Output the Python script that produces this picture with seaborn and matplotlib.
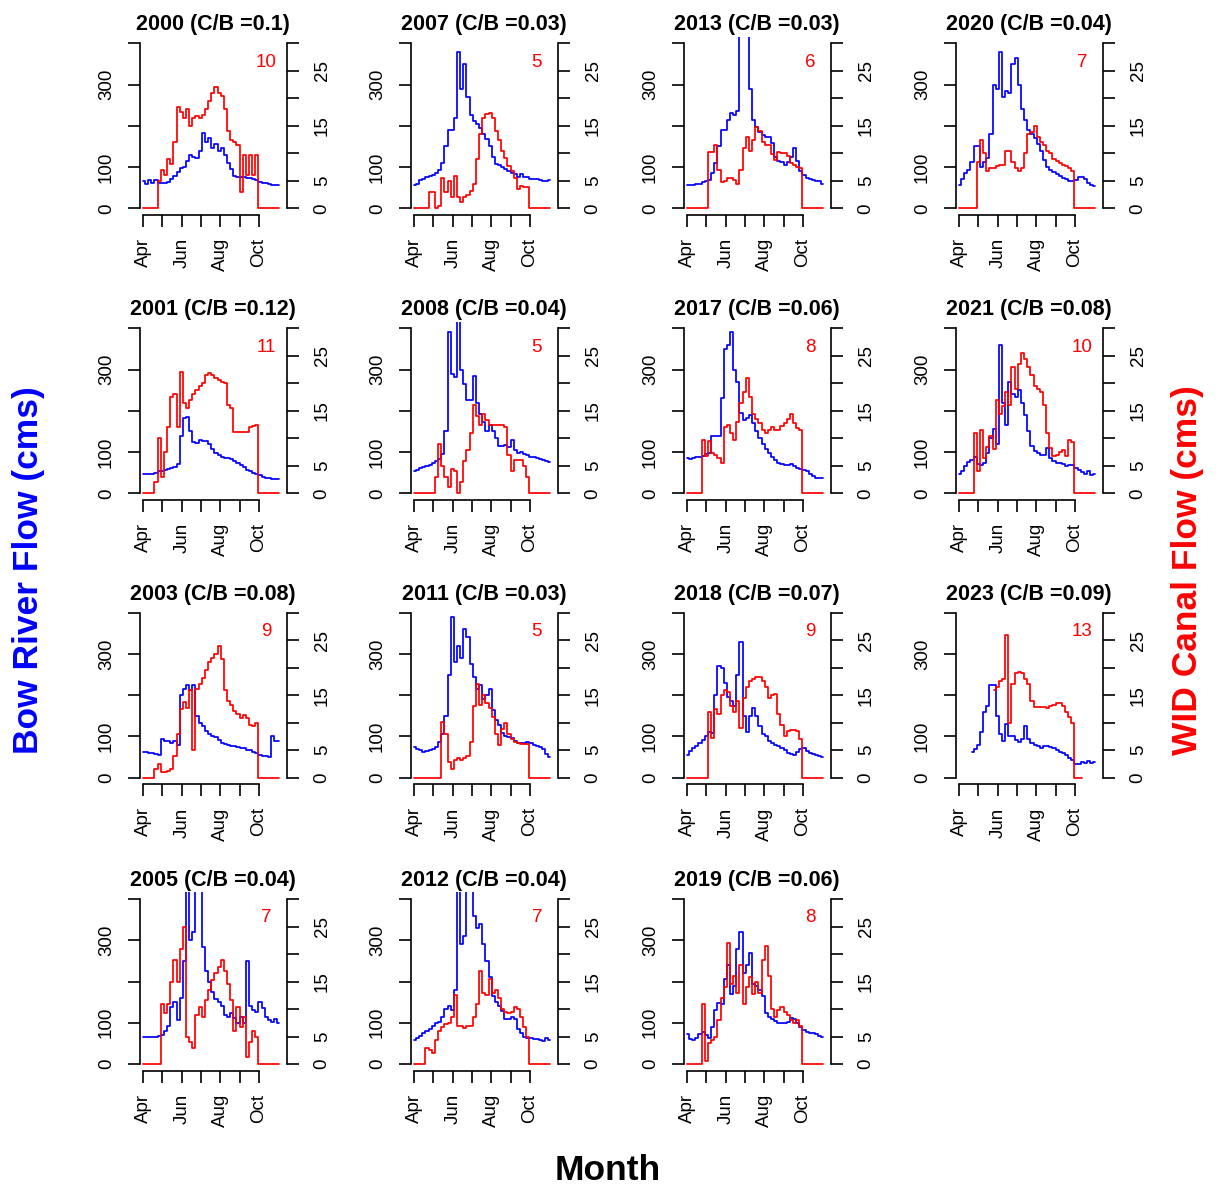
import numpy as np
import pandas as pd
import matplotlib
matplotlib.use("Agg")
import matplotlib.pyplot as plt
import seaborn as sns

nan = np.nan

# Days since 1 April, sampled every 5 days (Apr 1 .. early Nov)
days = list(range(0, 220, 5))

# Panel grid, filled column by column
col_years = [[2000, 2001, 2003, 2005],
             [2007, 2008, 2011, 2012],
             [2013, 2017, 2018, 2019],
             [2020, 2021, 2023]]

# Canal / Bow ratio shown in each title
cb_ratio = {2000: "0.1", 2001: "0.12", 2003: "0.08", 2005: "0.04",
            2007: "0.03", 2008: "0.04", 2011: "0.03", 2012: "0.04",
            2013: "0.03", 2017: "0.06", 2018: "0.07", 2019: "0.06",
            2020: "0.04", 2021: "0.08", 2023: "0.09"}

# Seasonal canal flow figure printed in red in each panel
canal_note = {2000: 10, 2001: 11, 2003: 9, 2005: 7,
              2007: 5, 2008: 5, 2011: 5, 2012: 7,
              2013: 6, 2017: 8, 2018: 9, 2019: 8,
              2020: 7, 2021: 10, 2023: 13}

# Bow River flow (cms), left axis
bow_2000 = [65, 60, 68, 62, 68, 62, 62, 62, 64, 70, 78,
            88, 97, 100, 115, 130, 125, 122, 140, 182, 160, 170,
            145, 155, 140, 145, 130, 110, 95, 78, 77, 76, 75,
            74, 73, 72, 68, 64, 61, 61, 58, 57, 57, 57]
bow_2001 = [48, 48, 48, 48, 50, 53, 55, 57, 60, 61, 64,
            70, 140, 182, 186, 150, 125, 121, 129, 127, 126, 120,
            108, 98, 92, 87, 85, 85, 83, 78, 74, 68, 63,
            57, 53, 50, 48, 45, 40, 38, 36, 35, 34, 34]
bow_2003 = [63, 62, 60, 59, 57, 56, 95, 88, 90, 85, 88,
            80, 200, 215, 225, 212, 225, 150, 133, 125, 113, 107,
            102, 98, 92, 84, 81, 80, 78, 76, 75, 73, 71,
            68, 66, 63, 60, 55, 53, 52, 51, 100, 90, 88]
bow_2005 = [66, 66, 66, 66, 66, 67, 70, 80, 92, 139, 150,
            107, 160, 250, 500, 300, 320, 550, 450, 284, 225, 198,
            175, 158, 150, 140, 120, 115, 123, 112, 99, 115, 100,
            250, 140, 131, 125, 150, 135, 115, 107, 103, 110, 100]
bow_2007 = [57, 60, 68, 72, 76, 79, 81, 85, 92, 110, 150,
            190, 190, 220, 380, 290, 350, 270, 225, 212, 205, 195,
            180, 168, 150, 125, 108, 104, 100, 96, 90, 86, 82,
            76, 82, 76, 75, 72, 70, 70, 68, 66, 66, 69]
bow_2008 = [53, 56, 61, 63, 65, 68, 73, 78, 83, 95, 150,
            390, 290, 283, 430, 300, 265, 226, 225, 285, 220, 192,
            172, 150, 165, 150, 135, 115, 115, 117, 113, 130, 105,
            97, 100, 95, 93, 89, 87, 85, 82, 80, 78, 77]
bow_2011 = [75, 70, 66, 63, 64, 67, 70, 75, 87, 105, 150,
            250, 390, 280, 320, 290, 360, 340, 275, 245, 215, 225,
            190, 200, 215, 165, 140, 128, 108, 100, 99, 96, 88,
            85, 83, 84, 87, 83, 80, 78, 74, 70, 58, 50]
bow_2012 = [58, 62, 68, 74, 80, 86, 92, 100, 103, 115, 133,
            141, 130, 180, 500, 290, 310, 450, 420, 360, 330, 340,
            290, 250, 210, 165, 150, 140, 128, 110, 108, 115, 108,
            85, 74, 66, 64, 62, 61, 60, 58, 55, 64, 58]
bow_2013 = [57, 57, 57, 58, 60, 63, 65, 68, 85, 110, 150,
            190, 190, 215, 230, 225, 235, 700, 900, 650, 290, 215,
            198, 186, 178, 172, 174, 158, 125, 115, 112, 105, 112,
            125, 145, 115, 90, 80, 74, 70, 68, 66, 65, 60]
bow_2017 = [85, 84, 86, 87, 89, 91, 95, 98, 140, 138, 140,
            230, 350, 360, 390, 300, 270, 195, 178, 183, 190, 170,
            150, 135, 120, 108, 98, 88, 80, 74, 71, 69, 69,
            72, 66, 62, 58, 56, 53, 48, 42, 38, 38, 36]
bow_2018 = [55, 65, 72, 78, 85, 92, 100, 110, 108, 200, 270,
            265, 230, 195, 185, 175, 250, 330, 150, 110, 150, 168,
            150, 125, 105, 100, 90, 85, 80, 77, 72, 66, 60,
            58, 56, 62, 70, 72, 65, 60, 57, 55, 52, 51]
bow_2019 = [72, 60, 58, 62, 72, 78, 70, 62, 90, 130, 148,
            145, 205, 240, 170, 190, 280, 320, 220, 240, 270, 195,
            190, 180, 165, 123, 115, 110, 105, 100, 99, 100, 102,
            112, 108, 99, 90, 82, 78, 76, 74, 72, 68, 65]
bow_2020 = [57, 72, 85, 93, 113, 150, 150, 100, 113, 121, 180,
            300, 290, 380, 270, 285, 280, 350, 365, 300, 240, 215,
            190, 180, 170, 155, 140, 118, 100, 93, 88, 82, 78,
            73, 70, 65, 65, 68, 75, 76, 70, 62, 56, 55]
bow_2021 = [48, 55, 65, 75, 81, 89, 70, 68, 73, 97, 135,
            155, 120, 360, 220, 165, 270, 240, 234, 250, 218, 190,
            150, 115, 103, 97, 93, 92, 110, 85, 78, 74, 73,
            70, 65, 68, 69, 62, 57, 52, 48, 53, 45, 48]
bow_2023 = [nan, nan, nan, nan, 63, 70, 80, 110, 160, 175, 225,
            225, 150, 105, 88, 130, 100, 100, 92, 87, 95, 125,
            95, 85, 80, 76, 71, 78, 76, 74, 71, 66, 63,
            60, 55, 48, 42, 33, 33, 38, 36, 40, 36, 37]

# WID canal flow (cms), right axis
wid_2000 = [0, 0, 0, 0, 0, 5, 7, 6, 9, 8, 12,
            18.5, 17.5, 16.5, 18, 15, 16.5, 16.8, 16.5, 17, 18, 19.5,
            21, 22, 21, 20.5, 18, 14, 12.5, 12, 11.5, 3, 9.7,
            6, 9.7, 6, 9.7, 0, 0, 0, 0, 0, 0, 0]
wid_2001 = [0, 0, 0, 0, 2, 10, 3, 7.5, 12, 17.5, 18,
            12, 22, 16.4, 15.5, 17, 18, 18.8, 19.5, 20, 21.5, 21.8,
            21.5, 21, 20.6, 20.3, 20, 16, 15.5, 11.2, 11.2, 11.2, 11.2,
            11.2, 12, 12.2, 12.4, 0, 0, 0, 0, 0, 0, 0]
wid_2003 = [0, 0, 0, 0, 1.5, 2.5, 1.1, 1.1, 1.2, 1.5, 4,
            8, 12.5, 13.8, 12.6, 16, 5, 16.2, 17, 18.2, 19.5, 21,
            21.7, 22.5, 24, 21.5, 16, 14, 13.2, 12.2, 11.5, 10.8, 11.4,
            10.8, 9.6, 9.4, 10, 0, 0, 0, 0, 0, 0, 0]
wid_2005 = [0, 0, 0, 0, 0, 0, 11, 9.2, 11, 15, 18.9,
            15, 21, 25, 5, 4, 3, 9, 10.4, 8.5, 11.6, 13.5,
            15.3, 16.5, 17.7, 18.9, 17, 14.5, 11.6, 6, 10.4, 6.8, 8.6,
            1.3, 4, 6, 5, 0, 0, 0, 0, 0, 0, 0]
wid_2007 = [0, 0, 0, 0, 0, 3, 3, 0, 0.5, 5.5, 3,
            5, 2, 5.8, 2, 1.2, 2, 2.5, 3.2, 4.5, 9, 13.5,
            16.5, 17.2, 17.3, 16.5, 14, 12.5, 10.5, 9.2, 7.6, 6.8, 5.5,
            3.5, 4, 3.9, 3.9, 0, 0, 0, 0, 0, 0, 0]
wid_2008 = [0, 0, 0, 0, 0, 0, 0, 3, 9, 5, 3,
            1.2, 4.5, 4, 0, 2, 5.8, 7.9, 11, 16, 14, 12.5,
            14.5, 13.3, 12.4, 12.4, 12.4, 12.4, 12.4, 12, 7, 4, 6,
            6, 6, 5, 3, 0, 0, 0, 0, 0, 0, 0]
wid_2011 = [0, 0, 0, 0, 0, 0, 0, 0, 0, 10.2, 8,
            2.9, 1.5, 3.2, 3.5, 3.2, 3.5, 4, 6.5, 13, 17, 13.2,
            15, 13.5, 12.6, 11, 8, 6, 8.8, 10, 8, 7, 6.5,
            6.3, 6.2, 6.2, 6.2, 0, 0, 0, 0, 0, 0, 0]
wid_2012 = [0, 0, 0, 0, 3, 2.5, 2, 4.4, 6, 6.8, 7.2,
            7.4, 8.5, 12.5, 7, 7, 6.5, 7, 7, 8.6, 11, 17,
            13, 12.5, 15.5, 13, 13.5, 12, 10, 9.5, 9.2, 9.5, 10.4,
            10, 8.6, 6.8, 5, 0, 0, 0, 0, 0, 0, 0]
wid_2013 = [0, 0, 0, 0, 0, 0, 0, 10.3, 10.3, 11.5, 7,
            4.8, 5, 5.5, 5.5, 5.2, 4.5, 7, 11, 13, 10.5, 12.5,
            14.8, 14, 12, 11.5, 11.5, 9.8, 8.8, 10.3, 10, 10, 9.5,
            8.2, 7.9, 7.5, 7.3, 0, 0, 0, 0, 0, 0, 0]
wid_2017 = [0, 0, 0, 0, 0, 9.7, 6.7, 9.5, 7.3, 7, 6.5,
            5.5, 12, 12.5, 11, 9.7, 13, 16.4, 18.5, 21, 17.5, 14.5,
            13.5, 12.7, 11.5, 11, 11.5, 12, 11.5, 11.5, 12.2, 12.7, 13.5,
            14.5, 12.7, 11.8, 11.5, 0, 0, 0, 0, 0, 0, 0]
wid_2018 = [0, 0, 0, 0, 0, 0, 0, 12, 7.2, 12.5, 11.5,
            15, 16, 15.5, 13, 12, 14, 9, 14.5, 16.5, 17.5, 18,
            18.3, 18.3, 17.5, 16.5, 14.5, 15, 15.2, 11.5, 9.5, 7.5, 8.5,
            8.7, 8.7, 8.5, 7, 0, 0, 0, 0, 0, 0, 0]
wid_2019 = [0, 0, 0, 0, 0, 11, 0.5, 3.8, 4.4, 5, 8,
            12, 14, 22, 14.5, 16, 13, 18, 11, 14, 15.8, 12.8,
            15, 13, 19, 21.5, 16, 10, 8.6, 9.8, 10.4, 9.5, 9,
            8, 7.4, 8, 7, 0, 0, 0, 0, 0, 0, 0]
wid_2020 = [0, 0, 0, 0, 0, 0, 8.5, 12.5, 10, 6.8, 7.3,
            7.3, 7.6, 7.9, 7.9, 10.5, 10.5, 8.5, 7.3, 6.8, 7.3, 10,
            13.5, 13.8, 15, 13, 12, 11.5, 10.5, 10, 9, 8.6, 8.2,
            7.9, 7.6, 7.3, 6.7, 0, 0, 0, 0, 0, 0, 0]
wid_2021 = [0, 0, 0, 0, 0, 11, 4, 11.5, 6.5, 8.5, 10.5,
            8, 17, 14.5, 15.8, 18.5, 16, 23, 19, 23.5, 25.5, 24.5,
            23, 21.5, 19.6, 19, 18.5, 16, 11, 8.3, 6.7, 7, 7.6,
            7.9, 6.8, 9.7, 9.3, 0, 0, 0, 0, 0, 0, 0]
wid_2023 = [nan, nan, nan, nan, nan, nan, nan, nan, nan, nan, nan,
            16, 16.5, 17.5, 18, 26, 10, 17, 19, 19.3, 19, 18,
            17, 14, 12.9, 12.9, 12.9, 12.9, 12.7, 13, 13.3, 13.5, 13.6,
            13, 12, 11, 10, 0, 0, 0, nan, nan, nan, nan]

bow_flow = {2000: bow_2000, 2001: bow_2001, 2003: bow_2003, 2005: bow_2005,
            2007: bow_2007, 2008: bow_2008, 2011: bow_2011, 2012: bow_2012,
            2013: bow_2013, 2017: bow_2017, 2018: bow_2018, 2019: bow_2019,
            2020: bow_2020, 2021: bow_2021, 2023: bow_2023}
wid_flow = {2000: wid_2000, 2001: wid_2001, 2003: wid_2003, 2005: wid_2005,
            2007: wid_2007, 2008: wid_2008, 2011: wid_2011, 2012: wid_2012,
            2013: wid_2013, 2017: wid_2017, 2018: wid_2018, 2019: wid_2019,
            2020: wid_2020, 2021: wid_2021, 2023: wid_2023}

month_ticks = [0, 30, 61, 91, 122, 153, 183]
month_labels = ["Apr", "", "Jun", "", "Aug", "", "Oct"]
bow_ticks = [0, 100, 200, 300, 400]
bow_labels = ["0", "100", "", "300", ""]
wid_ticks = [0, 5, 10, 15, 20, 25, 30]
wid_labels = ["0", "5", "", "15", "", "25", ""]

sns.set_theme(style="ticks")
plt.rcParams["font.family"] = ["Liberation Sans", "DejaVu Sans"]

W, H = 1218, 1188
fig = plt.figure(figsize=(W / 100, H / 100), dpi=100)

col_left = [139.5, 410.5, 683.5, 955.5]
row_zero = [208.3, 493.3, 777.7, 1064.0]
pw = 147.0
px_per_cms = 0.4125
ph = 432 * px_per_cms

TICK_LEN = 8.6
LW_AX = 1.2
LW_LINE = 1.25


def style_ticks(axis_obj):
    for lbl in axis_obj.get_ticklabels():
        lbl.set_va("center")


for c, yrs in enumerate(col_years):
    for r, yr in enumerate(yrs):
        top = row_zero[r] - 416 * px_per_cms
        ax = fig.add_axes([col_left[c] / W, 1 - (top + ph) / H, pw / W, ph / H])
        df = pd.DataFrame({"day": days, "bow": bow_flow[yr], "wid": wid_flow[yr]})

        sns.lineplot(data=df, x="day", y="bow", ax=ax, color="#0000FF",
                     linewidth=LW_LINE, drawstyle="steps-mid", estimator=None)
        ax2 = ax.twinx()
        sns.lineplot(data=df, x="day", y="wid", ax=ax2, color="#FF0000",
                     linewidth=LW_LINE, drawstyle="steps-mid", estimator=None)

        ax.set_xlim(-6.3, 227)
        ax.set_ylim(-16, 416)
        ax2.set_ylim(-1.2, 31.2)

        ax.set_xlabel("")
        ax.set_ylabel("")
        ax2.set_ylabel("")
        ax2.set_xlabel("")

        ax.set_xticks(month_ticks)
        ax.set_xticklabels(month_labels, rotation=90)
        ax.set_yticks(bow_ticks)
        ax.set_yticklabels(bow_labels, rotation=90)
        ax2.set_yticks(wid_ticks)
        ax2.set_yticklabels(wid_labels, rotation=90)
        style_ticks(ax.yaxis)
        style_ticks(ax2.yaxis)

        ax.tick_params(axis="x", direction="out", length=TICK_LEN, width=LW_AX,
                       labelsize=13.5, pad=8, colors="black")
        ax.tick_params(axis="y", direction="out", length=TICK_LEN, width=LW_AX,
                       labelsize=13.5, pad=9, colors="black")
        ax2.tick_params(axis="y", direction="out", length=TICK_LEN, width=LW_AX,
                        labelsize=13.5, pad=11, colors="black")

        for s in ["top", "right"]:
            ax.spines[s].set_visible(False)
        for s in ["top", "left", "bottom"]:
            ax2.spines[s].set_visible(False)
        ax.spines["left"].set_bounds(0, 400)
        ax.spines["bottom"].set_bounds(0, 183)
        ax2.spines["right"].set_bounds(0, 30)
        for sp in [ax.spines["left"], ax.spines["bottom"], ax2.spines["right"]]:
            sp.set_linewidth(LW_AX)
            sp.set_color("black")

        ax.set_title(f"{yr} (C/B ={cb_ratio[yr]})", fontsize=15.5,
                     fontweight="bold", pad=4.5, color="black")
        ax.text(0.86, 0.858, str(canal_note[yr]), transform=ax.transAxes,
                color="#FF0000", fontsize=13.5, ha="center", va="center")

fig.text(29 / W, 1 - 570 / H, "Bow River Flow (cms)", rotation=90,
         color="#0000FF", fontsize=25.5, fontweight="bold", ha="center", va="center")
fig.text(1188 / W, 1 - 570 / H, "WID Canal Flow (cms)", rotation=90,
         color="#FF0000", fontsize=25.5, fontweight="bold", ha="center", va="center")
fig.text(608 / W, 1 - 1170 / H, "Month", color="black", fontsize=25.5,
         fontweight="bold", ha="center", va="center")

fig.savefig("out.png", dpi=100, facecolor="white")
